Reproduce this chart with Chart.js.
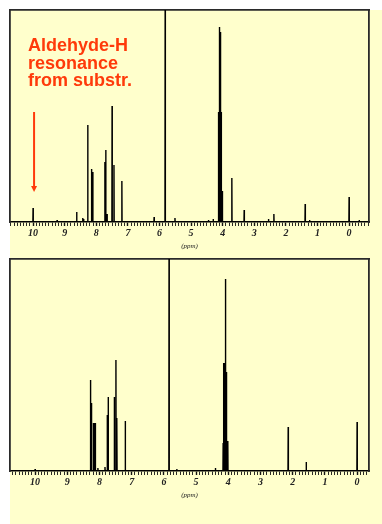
<!DOCTYPE html>
<html>
<head>
<meta charset="utf-8">
<script src="https://cdn.jsdelivr.net/npm/chart.js@4.4.0/dist/chart.umd.min.js"></script>
<style>
  body { margin: 0; background: #fff; }
  #page { position: relative; width: 382px; height: 524px; background: #fff; overflow: hidden; }
  #paper { position: absolute; left: 10px; top: 10px; width: 372px; height: 514px; background: #ffffcc; }
  canvas { position: absolute; left: 0; }
  #c1 { top: 0; }
  #c2 { top: 252px; }
  #note { position: absolute; left: 28px; top: 37px; font: bold 18px "Liberation Sans", Arial, sans-serif;
          line-height: 17.5px; color: #ff3a0a; }
</style>
</head>
<body>
<div id="page">
  <div id="paper"></div>
  <canvas id="c1" width="382" height="252"></canvas>
  <canvas id="c2" width="382" height="272"></canvas>
  <div id="note">Aldehyde-H<br>resonance<br>from substr.</div>
</div>
<script>
// peak positions (ppm) and heights
var topPpm = [10.00, 9.24, 8.62, 8.43, 8.40, 8.27, 8.15, 8.11, 7.73, 7.70, 7.66, 7.50, 7.44, 7.19,
              6.17, 5.82, 5.51, 4.45, 4.30, 4.14, 4.125, 4.11, 4.09, 4.075, 4.06, 4.045, 4.01,
              3.71, 3.32, 2.55, 2.38, 1.39, 1.25, 0.00, -0.32];
var topInt = [14, 2, 10, 4, 3, 97, 53, 50, 60, 72, 8, 116, 57, 41,
              5, 230, 4, 2, 3, 31, 110, 110, 195, 190, 110, 110, 31,
              44, 12, 3, 8, 18, 2, 25, 2];

var botPpm = [10.00, 8.28, 8.25, 8.19, 8.16, 8.13, 8.05, 7.83, 7.76, 7.73, 7.54, 7.49, 7.46, 7.20,
              5.84, 5.60, 4.40, 4.16, 4.135, 4.12, 4.095, 4.08, 4.065, 4.05, 4.015,
              2.14, 1.58, 0.00];
var botInt = [2, 91, 68, 48, 48, 48, 3, 4, 56, 74, 74, 111, 53, 50,
              230, 2, 3, 28, 108, 108, 192, 185, 99, 99, 30,
              44, 9, 49];

var topRange = [-0.63, 10.73];
var botRange = [-0.37, 10.78];
var yMax = 212;

function sticks(ppm, ints) {
  var idx = ppm.map(function(p, i) { return i; });
  idx.sort(function(a, b) { return ppm[b] - ppm[a]; });
  var pts = [];
  var w = 0.006;
  idx.forEach(function(i) {
    pts.push({x: ppm[i] + w, y: 0});
    pts.push({x: ppm[i], y: ints[i]});
    pts.push({x: ppm[i] - w, y: 0});
  });
  return pts;
}

function isInt(v) { return Math.abs(v - Math.round(v)) < 1e-6; }

var arrowPlugin = {
  id: 'arrow',
  afterDraw: function(chart) {
    if (chart.canvas.id !== 'c1') return;
    var ctx = chart.ctx;
    var x = chart.scales.x.getPixelForValue(10) + 1;
    var y0 = chart.chartArea.top + 102, y1 = chart.chartArea.top + 182;
    ctx.save();
    ctx.strokeStyle = '#ff3a0a';
    ctx.fillStyle = '#ff3a0a';
    ctx.lineWidth = 2;
    ctx.beginPath(); ctx.moveTo(x, y0); ctx.lineTo(x, y1 - 5); ctx.stroke();
    ctx.beginPath(); ctx.moveTo(x - 3, y1 - 6); ctx.lineTo(x + 3, y1 - 6); ctx.lineTo(x, y1); ctx.closePath(); ctx.fill();
    ctx.restore();
  }
};

function makeChart(id, ppm, ints, range, pad) {
  var frame = {display: true, color: '#2a2a2a', width: 1.8};
  return new Chart(document.getElementById(id), {
    type: 'line',
    data: {
      datasets: [{
        data: sticks(ppm, ints),
        borderColor: '#000',
        borderWidth: 1.4,
        pointRadius: 0,
        tension: 0,
        fill: false
      }]
    },
    options: {
      responsive: false,
      animation: false,
      devicePixelRatio: 1,
      layout: {padding: pad},
      plugins: {legend: {display: false}, tooltip: {enabled: false}},
      scales: {
        x: {
          type: 'linear', position: 'bottom', reverse: true,
          min: range[0], max: range[1],
          border: {display: true, color: '#000', width: 1.6},
          grid: {
            drawOnChartArea: false, tickLength: 4, tickColor: '#111',
            tickWidth: function(c) { return isInt(c.tick.value) ? 1.4 : 0.9; }
          },
          ticks: {
            stepSize: 0.1, autoSkip: false, maxRotation: 0, includeBounds: false, padding: 1,
            color: '#222', font: {family: '"Liberation Serif", serif', style: 'italic', weight: 'bold', size: 10},
            callback: function(v) { return isInt(v) ? String(Math.round(v)) : ''; }
          },
          title: {
            display: true, text: '(ppm)', color: '#222', padding: {top: 2, bottom: 2},
            font: {family: '"Liberation Serif", serif', style: 'italic', size: 7}
          },
          afterFit: function(s) { s.height = 30; }
        },
        xt: {
          type: 'linear', position: 'top', reverse: true, min: range[0], max: range[1],
          border: frame, grid: {drawOnChartArea: false, drawTicks: false}, ticks: {display: false},
          afterFit: function(s) { s.height = 0; }
        },
        y: {
          min: 0, max: yMax, position: 'left',
          border: frame, grid: {drawOnChartArea: false, drawTicks: false}, ticks: {display: false},
          afterFit: function(s) { s.width = 0; }
        },
        yr: {
          min: 0, max: yMax, position: 'right',
          border: frame, grid: {drawOnChartArea: false, drawTicks: false}, ticks: {display: false},
          afterFit: function(s) { s.width = 0; }
        }
      }
    },
    plugins: [arrowPlugin]
  });
}

makeChart('c1', topPpm, topInt, topRange, {left: 10, right: 13, top: 10, bottom: 0});
makeChart('c2', botPpm, botInt, botRange, {left: 10, right: 13, top: 7, bottom: 23});
</script>
</body>
</html>
